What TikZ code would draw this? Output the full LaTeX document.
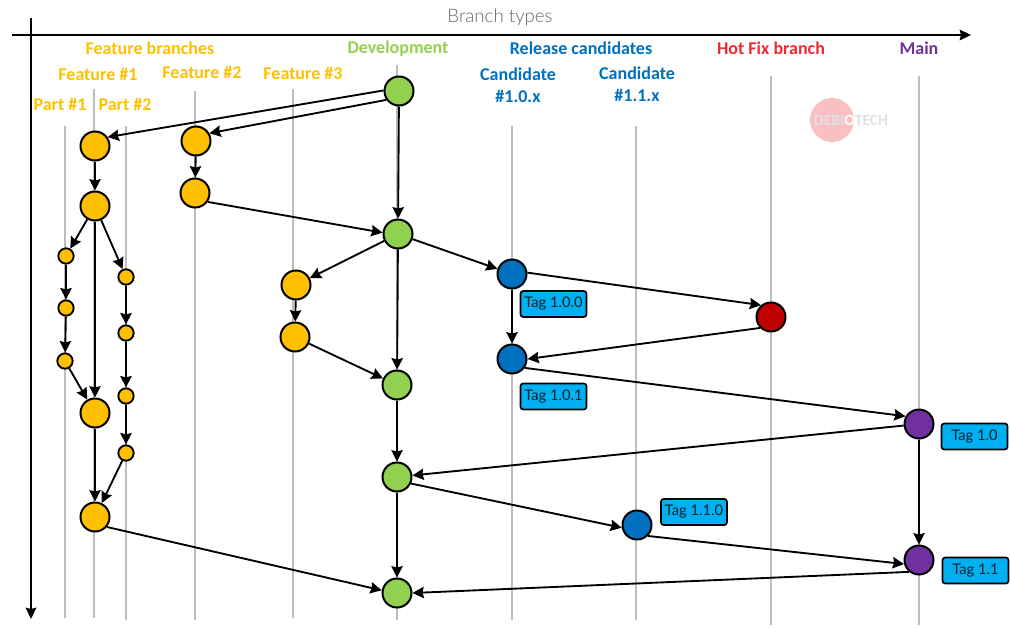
\documentclass[tikz,border=0pt]{standalone}
\usepackage{xcolor}
\usepackage{fontspec}
\setmainfont{Carlito}
\newfontfamily\tagfont{Lato}
\newfontfamily\titlefont{Lato Light}
\usetikzlibrary{arrows.meta,positioning}

\definecolor{featcol}{HTML}{FFC000}
\definecolor{devcol}{HTML}{92D050}
\definecolor{relcol}{HTML}{0070C0}
\definecolor{fixcol}{HTML}{C00000}
\definecolor{fixtxt}{HTML}{EE2B35}
\definecolor{maincol}{HTML}{7030A0}
\definecolor{tagcol}{HTML}{00B0F0}
\definecolor{lanecol}{HTML}{BDBDBD}
\definecolor{logocol}{HTML}{F8C0C0}

\begin{document}
\begin{tikzpicture}[x=0.75pt, y=-0.75pt,
    commit/.style={circle, draw, line width=1.5pt, inner sep=0pt, minimum size=21.75pt},
    part/.style={circle, draw, line width=1.4pt, inner sep=0pt, minimum size=11.5pt, fill=featcol},
    tagbox/.style={rectangle, draw, rounded corners=2pt, line width=1.2pt, fill=tagcol, minimum width=49.5pt, minimum height=19.5pt, inner sep=0pt, font=\tagfont\fontsize{11}{12}\selectfont, text=black!80!tagcol},
    head/.style={font=\bfseries\fontsize{13.5}{16.5}\selectfont, align=center, inner sep=0pt},
    arrow/.style={-{Stealth[length=8.5pt, width=8.5pt, inset=1pt]}, line width=1.4pt},
    axis/.style={-{Stealth[length=8.5pt, width=8pt, inset=1pt]}, line width=1.3pt}]

    \useasboundingbox (0,0) rectangle (1010,628);

    % Lanes
    \foreach \lanex/\lanetop/\lanebot in {65/126/618, 94/89/618, 126/126/620, 195/91/620, 293/89/618, 397/65/620, 512/126/620, 636/126/620, 771/76/625, 919/76/625}
        \draw[lanecol, line width=0.8pt] (\lanex,\lanetop) -- (\lanex,\lanebot);

    % Axes
    \coordinate (hstart) at (12,35);
    \coordinate (hend) at (971,35);
    \coordinate (vstart) at (31,18);
    \coordinate (vend) at (31,619);
    \draw[axis] (hstart) -- (hend);
    \draw[axis] (vstart) -- (vend);
    \node[font=\titlefont\fontsize{14}{16}\selectfont, text=black!60] (title) at (500,17) {Branch types};

    % Watermark
    \node[circle, fill=logocol, inner sep=0pt, minimum size=33pt] (logo) at (832,120) {};
    \node[font=\bfseries\fontsize{11.7}{13}\selectfont, text=black!12, inner sep=0pt] (logotext) at (851,120) {DEBI{\color{white}O}TECH};

    % Headings
    \node[head, text=featcol] (hfeat) at (150,48) {Feature branches};
    \node[head, text=featcol] (hf1) at (98,74) {Feature \#1};
    \node[head, text=featcol] (hf2) at (202,72) {Feature \#2};
    \node[head, text=featcol] (hf3) at (303,73) {Feature \#3};
    \node[head, text=featcol] (hp1) at (60,104) {Part \#1};
    \node[head, text=featcol] (hp2) at (125,104) {Part \#2};
    \node[head, text=devcol] (hdev) at (398,49) {Development};
    \node[head, text=relcol] (hrel) at (581,48) {Release candidates};
    \node[head, text=relcol] (hc1) at (518,85) {Candidate\\\#1.0.x};
    \node[head, text=relcol] (hc2) at (637,84) {Candidate\\\#1.1.x};
    \node[head, text=fixtxt] (hfix) at (771,48) {Hot Fix branch};
    \node[head, text=maincol] (hmain) at (919,48) {Main};

    % Development
    \node[commit, fill=devcol] (dev1) at (399,91) {};
    \node[commit, fill=devcol] (dev2) at (398,234) {};
    \node[commit, fill=devcol] (dev3) at (397,385) {};
    \node[commit, fill=devcol] (dev4) at (397,477) {};
    \node[commit, fill=devcol] (dev5) at (397,593) {};

    % Feature branches
    \node[commit, fill=featcol] (feat1) at (95,146) {};
    \node[commit, fill=featcol] (feat2) at (95,206) {};
    \node[commit, fill=featcol] (feat3) at (95,413) {};
    \node[commit, fill=featcol] (feat4) at (95,517) {};
    \node[commit, fill=featcol] (second1) at (196,141) {};
    \node[commit, fill=featcol] (second2) at (195,193) {};
    \node[commit, fill=featcol] (third1) at (296,285) {};
    \node[commit, fill=featcol] (third2) at (295,337) {};

    % Parts
    \node[part] (parta1) at (66,256) {};
    \node[part] (parta2) at (66,308) {};
    \node[part] (parta3) at (65,361) {};
    \node[part] (partb1) at (126,277) {};
    \node[part] (partb2) at (126,333) {};
    \node[part] (partb3) at (126,396) {};
    \node[part] (partb4) at (126,453) {};

    % Release candidates
    \node[commit, fill=relcol] (rel1) at (512,274) {};
    \node[commit, fill=relcol] (rel2) at (512,359) {};
    \node[commit, fill=relcol] (rel3) at (637,525) {};

    % Hot fix
    \node[commit, fill=fixcol] (fix) at (771,317) {};

    % Main
    \node[commit, fill=maincol] (main1) at (919,424) {};
    \node[commit, fill=maincol] (main2) at (919,560) {};

    % Tags
    \node[tagbox] (tag100) at (553.5,304) {Tag 1.0.0};
    \node[tagbox] (tag101) at (553.5,396.5) {Tag 1.0.1};
    \node[tagbox] (tag10) at (974.5,436.5) {Tag 1.0};
    \node[tagbox] (tag110) at (694,512) {Tag 1.1.0};
    \node[tagbox] (tag11) at (975.5,570.5) {Tag 1.1};

    % Arrows
    \draw[arrow] (dev1.178) -- (feat1.35);
    \draw[arrow] (dev1.215) -- (second1.30);
    \draw[arrow] (dev1) -- (dev2);
    \draw[arrow] (feat1) -- (feat2);
    \draw[arrow] (second1) -- (second2);
    \draw[arrow] (second2.-35) -- (dev2.175);
    \draw[arrow] (feat2) -- (parta1);
    \draw[arrow] (feat2) -- (feat3);
    \draw[arrow] (feat2) -- (partb1);
    \draw[arrow] (parta1) -- (parta2);
    \draw[arrow] (parta2) -- (parta3);
    \draw[arrow] (parta3) -- (feat3);
    \draw[arrow] (partb1) -- (partb2);
    \draw[arrow] (partb2) -- (partb3);
    \draw[arrow] (partb3) -- (partb4);
    \draw[arrow] (partb4) -- (feat4);
    \draw[arrow] (feat3) -- (feat4);
    \draw[arrow] (feat4.-40) -- (dev5.170);
    \draw[arrow] (dev2) -- (third1);
    \draw[arrow] (third1) -- (third2);
    \draw[arrow] (third2) -- (dev3);
    \draw[arrow] (dev2) -- (dev3);
    \draw[arrow] (dev2) -- (rel1);
    \draw[arrow] (dev3) -- (dev4);
    \draw[arrow] (dev4) -- (dev5);
    \draw[arrow] (rel1) -- (rel2);
    \draw[arrow] (rel1.5) -- (fix.130);
    \draw[arrow] (fix.225) -- (rel2.east);
    \draw[arrow] (rel2.-35) -- (main1.150);
    \draw[arrow] (main1) -- (dev4);
    \draw[arrow] (main1) -- (main2);
    \draw[arrow] (dev4.-25) -- (rel3.190);
    \draw[arrow] (rel3.-45) -- (main2.195);
    \draw[arrow] (main2.230) -- (dev5.east);

\end{tikzpicture}
\end{document}
